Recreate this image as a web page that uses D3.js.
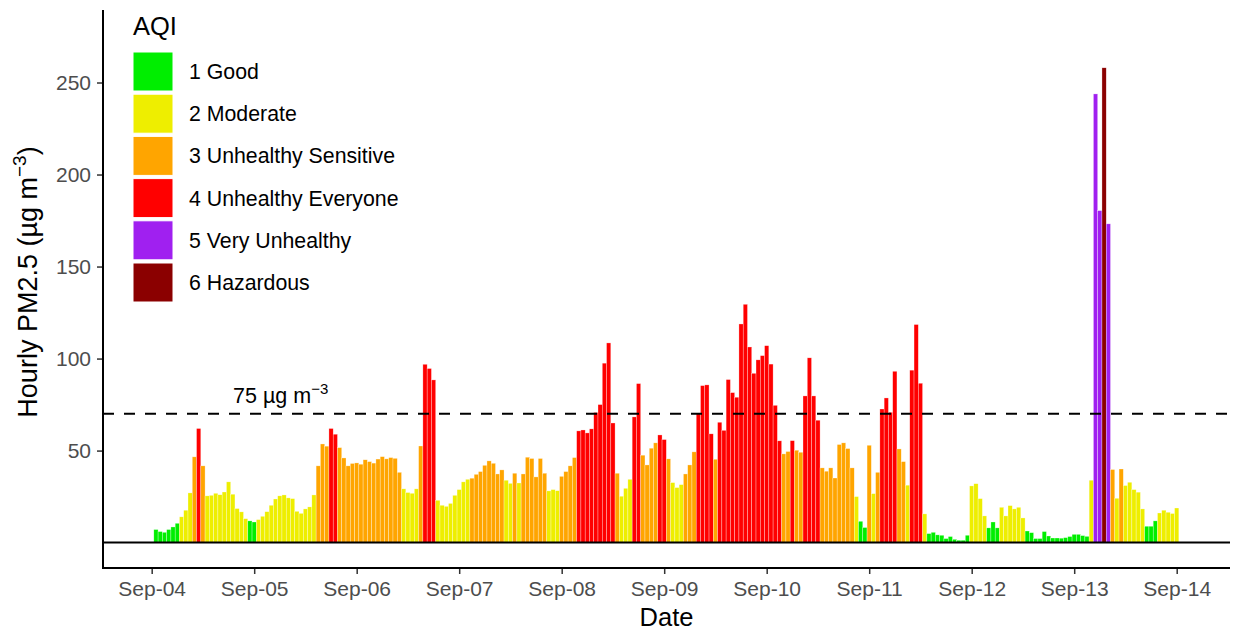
<!DOCTYPE html>
<html>
<head>
<meta charset="utf-8">
<script src="https://cdn.jsdelivr.net/npm/d3@7"></script>
<style>
  body { margin: 0; background: #fff; }
  svg { font-family: "Liberation Sans", Arial, sans-serif; }
</style>
</head>
<body>
<svg id="chart"></svg>
<script>
// hourly PM2.5, first value is Sep-04 01:00, last is Sep-14 00:00
var pm25 = [
  7.1, 6.0, 5.6, 7.1, 8.5, 10.5, 14, 17.6, 27, 46.6, 62, 41.7,
  25.4, 25.7, 26.8, 26, 27.5, 33, 26.3, 18.5, 16.7, 13, 11.8, 11.2,
  12.5, 14.3, 16.8, 20.3, 23.7, 25.4, 25.9, 24.3, 23.9, 17, 15.9, 18.3,
  19.4, 25.9, 41.7, 53.6, 52.4, 62, 58.9, 51.6, 46, 41.7, 43, 43.3,
  42.6, 45, 44, 43.2, 45.4, 46.7, 45.5, 46.2, 45.8, 38.2, 29.2, 27.2,
  26.8, 29.2, 52.5, 96.9, 94.6, 88.4, 23, 20.3, 19.7, 21.3, 25.7, 28.8,
  33, 34.4, 35, 37.1, 38.6, 42, 44.4, 43.1, 37.3, 39.5, 33.9, 32.2,
  37.7, 32.4, 37.3, 46.4, 45.7, 35.7, 45.7, 37.7, 28.1, 28.8, 28.2, 36,
  38.6, 41.7, 46.2, 60.7, 61.2, 59.6, 61.8, 70.7, 75, 97.5, 108.5, 65,
  37.7, 25.2, 29.5, 34.4, 68.3, 86.4, 47.5, 42.2, 51.3, 54.2, 58.5, 56,
  45.5, 32.6, 29.9, 31.5, 37.3, 42.2, 49.3, 70.1, 85.3, 85.7, 59.1, 45.3,
  65.4, 61, 88.6, 81.5, 79, 118.8, 129.5, 106.3, 92, 99.3, 101.6, 107,
  97, 74.6, 55.3, 48.2, 49.5, 55.4, 50.2, 49.1, 79.7, 100.4, 79.7, 66.5,
  40.6, 38.8, 40.6, 35.1, 53.3, 54.2, 51.1, 40.6, 25, 11.6, 8.2, 52.9,
  26.6, 38.2, 72.6, 78.6, 70.8, 93.1, 50.9, 44, 31.2, 93.7, 118.5, 86.6,
  15.6, 4.9, 5.6, 4.2, 4, 2.2, 3.3, 1.8, 1.3, 1.3, 4, 30.8,
  32, 23.9, 14.5, 8, 11.2, 8, 19.2, 14.5, 20.1, 18.3, 19.2, 13.4,
  6.3, 5.4, 2.2, 2.2, 6, 3.6, 2.5, 2.5, 2.4, 2.7, 3.3, 4.5,
  4.5, 3.8, 3.4, 33.9, 243.8, 180.4, 258, 173.2, 39.7, 24.1, 40, 31,
  32.8, 28.8, 27.4, 18.3, 8.9, 8.9, 11.8, 16.1, 17.6, 16.5, 15.8, 18.8
];

// AQI class of each hour (1..6)
var aqi = [
  1,1,1,1,1,1,2,2,2,3,4,3, 2,2,2,2,2,2,2,2,2,2,1,1,
  2,2,2,2,2,2,2,2,2,2,2,2, 2,2,3,3,3,4,4,3,3,3,3,3,
  3,3,3,3,3,3,3,3,3,3,2,2, 2,2,3,4,4,4,2,2,2,2,2,2,
  2,2,3,3,3,3,3,3,3,3,2,2, 3,2,3,3,3,3,3,3,2,2,2,3,
  3,3,3,4,4,4,4,4,4,4,4,4, 3,2,2,2,4,4,3,3,3,3,4,4,
  3,2,2,2,3,3,3,4,4,4,4,3, 4,4,4,4,4,4,4,4,4,4,4,4,
  4,4,4,3,3,4,3,3,4,4,4,4, 3,3,3,3,3,3,3,3,2,1,1,3,
  2,3,4,4,4,4,3,3,2,4,4,4, 2,1,1,1,1,1,1,1,1,1,1,2,
  2,2,2,1,1,1,2,2,2,2,2,2, 1,1,1,1,1,1,1,1,1,1,1,1,
  1,1,1,2,5,5,6,5,3,2,3,2, 2,2,2,2,1,1,1,2,2,2,2,2
];

var aqiLabels = ['1 Good', '2 Moderate', '3 Unhealthy Sensitive', '4 Unhealthy Everyone', '5 Very Unhealthy', '6 Hazardous'];
var aqiColors = ['#00EE00', '#EEEE00', '#FFA500', '#FF0000', '#A020F0', '#8B0000'];

var yTicks = [50, 100, 150, 200, 250];
var limitValue = 70;
var startDate = new Date(Date.UTC(2020, 8, 4, 0));
var endDate = new Date(Date.UTC(2020, 8, 14, 0));

var width = 1233,
    height = 632,
    pLeft = 103, pRight = 1230, pTop = 10, pBottom = 568;

var svg = d3.select('#chart')
    .attr('width', width)
    .attr('height', height);

var hour = 3600 * 1000;
var data = pm25.map(function (v, i) {
    return { t: new Date(startDate.getTime() + (i + 1) * hour), v: v, c: aqi[i] };
});

var x = d3.scaleUtc()
    .domain([new Date(startDate.getTime() - 0.475 * 24 * hour), new Date(startDate.getTime() + 10.52 * 24 * hour)])
    .range([pLeft, pRight]);
var y = d3.scaleLinear()
    .domain([-13.8, 289.4])
    .range([pBottom, pTop]);

var bw = x(new Date(hour)) - x(new Date(0));

// bars
svg.append('g').attr('class', 'bars')
    .selectAll('rect')
    .data(data)
    .enter().append('rect')
    .attr('x', function (d) { return x(d.t) - bw / 2; })
    .attr('width', bw)
    .attr('y', function (d) { return y(d.v); })
    .attr('height', function (d) { return y(0) - y(d.v); })
    .attr('fill', function (d) { return aqiColors[d.c - 1]; })
    .attr('stroke', '#fff')
    .attr('stroke-opacity', 0.6)
    .attr('stroke-width', 0.5);

// zero line and limit line
svg.append('line')
    .attr('x1', pLeft).attr('x2', pRight)
    .attr('y1', y(0)).attr('y2', y(0))
    .attr('stroke', '#000').attr('stroke-width', 2);

svg.append('line')
    .attr('x1', pLeft).attr('x2', pRight)
    .attr('y1', y(limitValue)).attr('y2', y(limitValue))
    .attr('stroke', '#000').attr('stroke-width', 2)
    .attr('stroke-dasharray', '11,10');

var note = svg.append('text')
    .attr('x', 233).attr('y', y(limitValue) - 11)
    .attr('font-size', 21.5).attr('fill', '#000')
    .text('75 µg m');
note.append('tspan').attr('dy', -9).attr('font-size', 15).text('−3');

// axes
var xAxis = d3.axisBottom(x)
    .ticks(d3.utcDay.every(1))
    .tickFormat(d3.utcFormat('%b-%d'))
    .tickSizeOuter(0).tickSize(6).tickPadding(7);
var gx = svg.append('g')
    .attr('transform', 'translate(0,' + pBottom + ')')
    .call(xAxis);
gx.selectAll('.tick').filter(function (d) { return d < startDate || d > endDate; }).remove();

var yAxis = d3.axisLeft(y)
    .tickValues(yTicks)
    .tickSizeOuter(0).tickSize(6).tickPadding(6);
var gy = svg.append('g')
    .attr('transform', 'translate(' + pLeft + ',0)')
    .call(yAxis);

[gx, gy].forEach(function (g) {
    g.select('.domain').remove();
    g.selectAll('.tick line').attr('stroke', '#333').attr('stroke-width', 1.5);
    g.selectAll('.tick text').attr('fill', '#4D4D4D').attr('font-size', 21)
        .attr('font-family', '"Liberation Sans", Arial, sans-serif');
});

svg.append('line')
    .attr('x1', pLeft).attr('x2', pLeft).attr('y1', pTop).attr('y2', pBottom + 1)
    .attr('stroke', '#000').attr('stroke-width', 2);
svg.append('line')
    .attr('x1', pLeft - 1).attr('x2', pRight).attr('y1', pBottom).attr('y2', pBottom)
    .attr('stroke', '#000').attr('stroke-width', 2);

// axis titles
svg.append('text')
    .attr('x', (pLeft + pRight) / 2).attr('y', 626)
    .attr('text-anchor', 'middle').attr('font-size', 25.5)
    .text('Date');

var yt = svg.append('text')
    .attr('transform', 'translate(37,' + 282 + ') rotate(-90)')
    .attr('text-anchor', 'middle').attr('font-size', 27)
    .text('Hourly PM2.5 (µg m');
yt.append('tspan').attr('dy', -11).attr('font-size', 19).text('−3');
yt.append('tspan').attr('dy', 11).text(')');

// legend
var legend = svg.append('g').attr('transform', 'translate(133,0)');
legend.append('text')
    .attr('x', 0).attr('y', 35)
    .attr('font-size', 25.5)
    .text('AQI');

var li = legend.selectAll('.li')
    .data(aqiLabels)
    .enter().append('g')
    .attr('class', 'li')
    .attr('transform', function (d, i) { return 'translate(0,' + (52 + i * 42.2) + ')'; });

li.append('rect')
    .attr('width', 40).attr('height', 39)
    .attr('fill', function (d, i) { return aqiColors[i]; })
    .attr('stroke', '#fff').attr('stroke-width', 1);

li.append('text')
    .attr('x', 56).attr('y', 19.5)
    .attr('dy', '0.35em')
    .attr('font-size', 21.3)
    .text(function (d) { return d; });
</script>
</body>
</html>
